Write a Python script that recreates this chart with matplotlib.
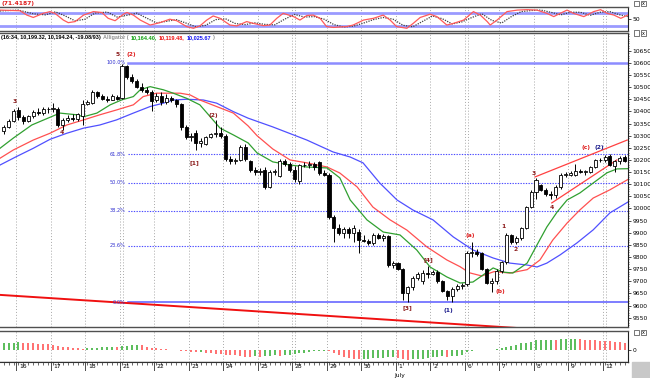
import numpy as np
import matplotlib
matplotlib.use("Agg")
import matplotlib.pyplot as plt
from matplotlib.patches import Rectangle

# ---- data (hourly bars, 15 Jun - 12 Jul) ----
opens = [10320, 10335, 10362, 10405, 10375, 10362, 10380, 10398, 10392, 10410,
         10408, 10410, 10345, 10365, 10372, 10368, 10380, 10430, 10435, 10478,
         10462, 10452, 10448, 10458, 10455, 10585, 10540, 10525, 10500, 10488,
         10478, 10445, 10465, 10440, 10455, 10445, 10430, 10335, 10293, 10310,
         10268, 10265, 10295, 10305, 10310, 10300, 10205, 10195, 10200, 10255,
         10195, 10158, 10152, 10160, 10090, 10150, 10135, 10195, 10185, 10160,
         10115, 10180, 10178, 10182, 10190, 10148, 10140, 9965, 9920, 9900,
         9915, 9898, 9905, 9872, 9868, 9858, 9892, 9880, 9885, 9768,
         9775, 9752, 9650, 9675, 9715, 9700, 9735, 9732, 9740, 9700,
         9660, 9638, 9668, 9680, 9688, 9815, 9820, 9815, 9750, 9695,
         9700, 9743, 9778, 9890, 9862, 9880, 9920, 10005, 10068, 10095,
         10075, 10058, 10055, 10088, 10138, 10140, 10140, 10155, 10150, 10150,
         10172, 10200, 10198, 10215, 10175, 10195, 10212]
highs = [10345, 10370, 10410, 10420, 10385, 10385, 10405, 10415, 10420, 10418,
         10435, 10418, 10372, 10385, 10390, 10395, 10445, 10448, 10490, 10485,
         10470, 10465, 10470, 10468, 10594, 10590, 10555, 10532, 10515, 10500,
         10490, 10475, 10480, 10470, 10462, 10452, 10435, 10345, 10310, 10325,
         10290, 10300, 10310, 10365, 10335, 10305, 10215, 10210, 10260, 10265,
         10200, 10170, 10165, 10170, 10160, 10162, 10205, 10205, 10190, 10175,
         10185, 10190, 10195, 10190, 10195, 10158, 10145, 9975, 9935, 9925,
         9925, 9930, 9915, 9890, 9875, 9900, 9900, 9895, 9890, 9785,
         9780, 9755, 9680, 9720, 9740, 9745, 9765, 9745, 9745, 9705,
         9665, 9675, 9690, 9695, 9825, 9860, 9835, 9822, 9755, 9715,
         9750, 9785, 9898, 9895, 9885, 9925, 10010, 10075, 10125, 10100,
         10085, 10070, 10095, 10145, 10150, 10155, 10185, 10162, 10158, 10175,
         10205, 10210, 10222, 10225, 10200, 10215, 10222]
lows = [10305, 10330, 10355, 10365, 10350, 10355, 10372, 10385, 10385, 10395,
        10398, 10335, 10325, 10355, 10360, 10362, 10345, 10425, 10430, 10455,
        10445, 10440, 10445, 10448, 10450, 10535, 10515, 10495, 10480, 10470,
        10400, 10440, 10425, 10430, 10440, 10420, 10325, 10285, 10280, 10242,
        10255, 10260, 10290, 10295, 10290, 10195, 10185, 10185, 10195, 10195,
        10150, 10140, 10140, 10080, 10085, 10140, 10130, 10175, 10150, 10110,
        10100, 10170, 10165, 10160, 10140, 10135, 9958, 9860, 9890, 9880,
        9880, 9860, 9815, 9860, 9850, 9850, 9875, 9865, 9760, 9755,
        9745, 9625, 9614, 9665, 9705, 9690, 9715, 9725, 9695, 9655,
        9625, 9616, 9660, 9670, 9680, 9800, 9805, 9745, 9690, 9655,
        9690, 9735, 9770, 9855, 9855, 9870, 9915, 10000, 10040, 10070,
        10050, 10040, 10045, 10080, 10128, 10135, 10135, 10145, 10140, 10145,
        10168, 10192, 10190, 10175, 10150, 10185, 10190]
closes = [10335, 10362, 10400, 10375, 10362, 10380, 10398, 10392, 10410, 10408,
          10415, 10345, 10365, 10372, 10368, 10388, 10430, 10438, 10478, 10462,
          10452, 10448, 10462, 10450, 10585, 10540, 10525, 10500, 10488, 10480,
          10442, 10465, 10440, 10455, 10445, 10430, 10335, 10293, 10300, 10268,
          10280, 10295, 10305, 10310, 10300, 10205, 10195, 10200, 10255, 10205,
          10158, 10152, 10155, 10090, 10150, 10155, 10195, 10185, 10160, 10120,
          10180, 10178, 10182, 10170, 10148, 10140, 9965, 9920, 9900, 9915,
          9898, 9920, 9872, 9868, 9858, 9892, 9880, 9885, 9768, 9775,
          9752, 9650, 9675, 9715, 9730, 9735, 9732, 9738, 9700, 9660,
          9638, 9668, 9680, 9686, 9815, 9820, 9812, 9750, 9695, 9700,
          9743, 9778, 9890, 9862, 9880, 9920, 10005, 10068, 10118, 10075,
          10058, 10055, 10088, 10138, 10140, 10145, 10155, 10150, 10152, 10172,
          10200, 10198, 10212, 10180, 10195, 10210, 10195]

# Alligator lines (bar position, price)
lips_x = [-0.75, 1.95, 5.7, 11.4, 14.8, 16.2, 18.9, 21.6, 23.9, 26.3, 27.7, 29.7,
          32.4, 34.4, 37.1, 39.8, 41.9, 43.9, 46.6, 49.6, 51.4, 54.6, 58.1, 61.5,
          65.6, 68.2, 70.3, 73.7, 77.0, 80.4, 83.8, 86.5, 89.9, 92.6, 95.2, 98.1,
          99.3, 101.3, 103.3, 106.2, 108.2, 110.2, 112.3, 114.3, 116.9, 119.6,
          122.4, 124.4, 126.6]
lips_y = [10248, 10290, 10344, 10393, 10386, 10378, 10393, 10427, 10447, 10461,
          10489, 10502, 10489, 10475, 10454, 10427, 10378, 10331, 10303, 10270,
          10229, 10192, 10179, 10171, 10167, 10126, 10035, 9953, 9903, 9891, 9829,
          9759, 9718, 9693, 9697, 9738, 9755, 9738, 9734, 9775, 9850, 9924, 9986,
          10035, 10064, 10105, 10147, 10163, 10164]
teeth_x = [-0.75, 1.95, 6.0, 9.4, 12.8, 16.2, 19.5, 22.9, 26.3, 28.3, 31.0, 35.8,
           37.8, 39.8, 43.2, 46.6, 49.6, 51.4, 54.6, 58.1, 61.5, 65.6, 68.2, 71.7,
           74.9, 78.4, 81.8, 85.9, 89.9, 92.6, 94.5, 97.0, 99.5, 102.7, 106.2,
           108.8, 111.4, 114.3, 116.9, 119.6, 123.0, 126.6]
teeth_y = [10207, 10241, 10282, 10310, 10344, 10365, 10386, 10406, 10427, 10461,
           10475, 10475, 10468, 10447, 10420, 10393, 10340, 10300, 10245, 10200,
           10188, 10171, 10146, 10089, 10006, 9953, 9911, 9841, 9788, 9760, 9735,
           9722, 9740, 9734, 9748, 9788, 9870, 9940, 9994, 10043, 10077, 10119]
jaw_x = [-0.75, 2.6, 6.0, 9.4, 12.8, 16.2, 19.5, 22.9, 26.3, 29.7, 32.4, 34.4,
         37.1, 40.5, 43.2, 46.6, 49.6, 54.6, 61.5, 66.8, 70.3, 72.9, 76.3, 79.8,
         83.0, 87.1, 91.2, 95.2, 99.3, 102.7, 106.2, 108.2, 110.2, 112.9, 116.3,
         119.6, 123.0, 126.6]
jaw_y = [10179, 10214, 10248, 10285, 10310, 10331, 10344, 10365, 10393, 10420,
         10434, 10447, 10450, 10447, 10434, 10399, 10372, 10336, 10282, 10233,
         10212, 10188, 10105, 10035, 9994, 9953, 9883, 9829, 9796, 9775, 9767,
         9759, 9775, 9809, 9858, 9912, 9982, 10026]

# Fibonacci retracement
fib_high = 10600
fib_low = 9613.5
fib_levels = [100.0, 61.8, 50.0, 38.2, 23.6, 0.0]

# trend lines (bar position, price)
long_line = ([-0.75, 110], [9644, 9500])
wedge_top = ([107.8, 126.5], [10130, 10282])
wedge_bot = ([111.2, 124.4], [10023, 10200])

# wave labels: bar position, price, text, colour
waves = [(2.3, 10439, "3", "#8b1a1a"), (11.8, 10311, "4", "#8b1a1a"),
         (23.2, 10633, "5", "#8b1a1a"), (25.8, 10633, "(2)", "#e02020"),
         (38.6, 10188, "[1]", "#8b1a1a"), (42.5, 10385, "(2)", "#8b1a1a"),
         (81.8, 9590, "[3]", "#8b1a1a"), (86.1, 9788, "[4]", "#8b1a1a"),
         (90.3, 9578, "(1)", "#1a1a8b"), (94.6, 9887, "(a)", "#e02020"),
         (100.7, 9656, "(b)", "#e02020"), (101.3, 9924, "1", "#8b1a1a"),
         (103.9, 9833, "2", "#8b1a1a"), (107.6, 10146, "3", "#8b1a1a"),
         (111.2, 10002, "4", "#8b1a1a"), (118.1, 10250, "(c)", "#e02020"),
         (120.8, 10250, "(2)", "#1a1a8b")]

# oscillator (top panel)
osc_x = [-0.75, 3.3, 4.7, 6.0, 8.0, 9.4, 10.4, 12.1, 13.1, 14.5, 16.2, 18.2, 19.9,
         21.2, 22.6, 24.3, 25.0, 26.3, 27.7, 29.7, 31.7, 33.7, 35.1, 37.1, 38.5,
         39.8, 41.2, 42.5, 43.9, 45.9, 47.3, 49.3, 50.6, 52.7, 54.0, 55.4, 56.7,
         58.8, 60.1, 61.5, 62.8, 64.2, 65.5, 66.9, 69.6, 70.9, 73.0, 75.0, 77.0,
         78.4, 79.7, 81.8, 83.1, 84.5, 86.5, 87.9, 89.9, 91.3, 93.3, 95.3, 96.7,
         98.1, 98.7, 100.1, 102.1, 104.2, 106.2, 108.2, 110.2, 111.6, 112.9, 114.3,
         115.6, 117.7, 119.7, 121.1, 122.4, 123.8, 125.2, 126.6]
osc_red = [92, 89, 69, 58, 77, 85, 77, 46, 34, 39, 69, 85, 81, 54, 43, 73, 81, 69,
           46, 23, 34, 50, 43, 16, 8, 19, 46, 65, 54, 23, 19, 39, 31, 20, 23, 54,
           77, 62, 46, 67, 69, 54, 16, 12, 16, 23, 46, 54, 69, 46, 16, 8, 31, 58,
           73, 62, 23, 31, 46, 85, 69, 39, 23, 46, 85, 92, 94, 92, 77, 62, 77, 92,
           77, 62, 85, 94, 77, 69, 54, 69]
sig_x = [-0.75, 3, 6, 8.5, 10.5, 12.5, 14.5, 16.5, 18.5, 21, 23, 25, 27, 29, 31, 33,
         35, 37, 39, 41, 43, 45, 47, 49, 51, 53, 55, 57, 59, 61, 63, 65, 67, 69, 71,
         73, 75, 77, 79, 81, 83, 85, 87, 89, 91, 93, 95, 97, 99, 101, 103, 105, 107,
         109, 111, 113, 115, 117, 119, 121, 123, 125, 126.6]
sig_y = [88, 92, 75, 70, 84, 65, 42, 50, 78, 83, 60, 68, 78, 55, 33, 40, 48, 32, 15,
         22, 48, 52, 30, 25, 33, 26, 24, 50, 72, 60, 62, 50, 25, 14, 18, 32, 48, 58,
         50, 22, 15, 40, 65, 52, 28, 38, 58, 75, 45, 32, 62, 85, 90, 92, 82, 70, 82,
         82, 68, 82, 85, 70, 62]

# histogram (bottom panel), one value per bar
hist = [6.7, 7.0, 7.3, 8.3, 7.3, 6.7, 6.6, 6.3, 6.0, 5.7,
        5.0, 4.3, 3.3, 2.7, 2.3, 1.7, 1.0, 2.0, 2.3, 2.5,
        2.7, 3.0, 3.2, 3.0, 3.7, 4.3, 4.7, 5.0, 4.7, 3.3,
        2.3, 1.7, 1.3, 0.7, 0.3, 0.0, -0.7, -1.3, -2.0, -2.3,
        -2.0, -2.7, -3.3, -4.0, -4.3, -4.7, -5.0, -5.3, -6.0, -6.7,
        -6.8, -6.0, -6.7, -6.2, -5.7, -5.3, -5.6, -5.0, -4.7, -4.3,
        -3.3, -2.7, -2.3, -1.3, -1.0, -0.7, -1.0, -3.3, -5.0, -6.7,
        -8.0, -8.5, -9.0, -8.8, -8.6, -8.3, -8.0, -7.7, -7.3, -6.7,
        -8.3, -9.3, -10.0, -9.3, -9.0, -8.7, -8.0, -7.3, -6.7, -6.0,
        -6.7, -6.0, -5.7, -5.0, -1.7, -0.7, 0.0, 0.3, 0.3, 0.3,
        1.0, 1.7, 2.7, 4.0, 5.0, 6.7, 7.3, 8.3, 9.7, 10.0,
        10.3, 10.5, 10.3, 10.6, 10.7, 10.8, 10.9, 10.7, 10.3, 10.0,
        9.7, 9.3, 9.0, 8.7, 8.3, 8.0, 7.3]

day_labels = ["16", "17", "18", "21", "22", "23", "24", "25", "28", "29", "30",
              "1", "2", "6", "7", "8", "9", "12"]
week_starts = ["21", "28", "6", "12"]

header = [("(16:34, 10,199.32, 10,194.24, -19.08/93)", "black"),
          ("Alligator (", "#909090"),
          ("10,164.40,", "#10a010"),
          ("10,119.48,", "#f01010"),
          ("10,025.67", "#1010f0"),
          (")", "#909090")]

# ---- layout helpers (pixels -> figure fraction) ----
W, H = 650, 378
RIGHT = 628


def fx(x):
    return x / W


def fy(y):
    return 1 - y / H


XMIN, XMAX = -0.75, 126.66
FS = 4.3
NARROW = ["Liberation Sans Narrow", "Liberation Sans", "DejaVu Sans"]

fig = plt.figure(figsize=(6.5, 3.78), dpi=100)
fig.patch.set_facecolor("white")

ax_osc = fig.add_axes([0, fy(31), fx(RIGHT), (31 - 7) / H])
ax = fig.add_axes([0, fy(327), fx(RIGHT), (327 - 33) / H])
ax_h = fig.add_axes([0, fy(362), fx(RIGHT), (362 - 331) / H])
ax_d = fig.add_axes([0, fy(371), fx(RIGHT), (371 - 362) / H])

grid_x = [2.5 + 7 * k for k in range(len(day_labels))]
extra_x = [grid_x[day_labels.index(d)] + 0.67 for d in week_starts]

for a in (ax_osc, ax, ax_h):
    a.set_xlim(XMIN, XMAX)
    a.set_xticks([])
    for gx in grid_x + extra_x:
        a.axvline(gx, color="#a8a8a8", lw=0.7, ls=(0, (1, 2)), zorder=0)
    a.spines["left"].set_visible(False)
    for s in ("top", "bottom"):
        a.spines[s].set_color("#505050")
        a.spines[s].set_linewidth(1.0)
    a.spines["right"].set_color("#202020")
    a.spines["right"].set_linewidth(0.8)
    a.yaxis.tick_right()
    a.tick_params(axis="y", labelsize=FS, length=2, width=0.5, pad=1)

# ---- top oscillator ----
ax_osc.set_ylim(-4.5, 106.3)
for lvl in (80, 20):
    ax_osc.axhline(lvl, color="#9a9aff", lw=2.0, zorder=1)
ax_osc.plot(sig_x, sig_y, color="#404040", lw=0.9, ls=(0, (1, 1)), zorder=2)
ax_osc.plot(osc_x, osc_red, color="#ff5a5a", lw=0.9, zorder=3)
ax_osc.set_yticks([50])
ax_osc.set_yticklabels(["50"])
fig.text(fx(2), fy(3.5), "(71.4187)", color="#e02020", fontsize=FS,
         fontweight="bold", va="center", ha="left")

# ---- main price panel ----
ax.set_ylim(9511.7, 10723)
ax.set_yticks(np.arange(9550, 10651, 50))
ax.set_yticks(np.arange(9520, 10721, 10), minor=True)
ax.tick_params(axis="y", which="minor", length=1, width=0.4)

# fibonacci lines
fib_start = 25.2
for lvl in fib_levels:
    price = fib_low + (fib_high - fib_low) * lvl / 100
    if lvl == 100.0:
        ax.plot([fib_start, XMAX], [price, price], color="#8c8cff", lw=1.8, zorder=1)
    elif lvl == 0.0:
        ax.plot([fib_start, XMAX], [price, price], color="#5a5aff", lw=1.1, zorder=1)
    else:
        ax.plot([fib_start, XMAX], [price, price], color="#4a4aff", lw=0.8,
                ls=(0, (1.2, 1.2)), zorder=1)
    ax.text(fib_start - 0.4, price, f"{lvl:.1f}%", color="#3030d0", fontsize=3.6,
            ha="right", va="center", zorder=5)

# alligator
ax.plot(jaw_x, jaw_y, color="#5050ff", lw=0.9, zorder=2)
ax.plot(teeth_x, teeth_y, color="#ff5050", lw=0.9, zorder=2)
ax.plot(lips_x, lips_y, color="#30a030", lw=0.9, zorder=2)

# trend lines
ax.plot(*long_line, color="#f01010", lw=1.4, zorder=2)
ax.plot(*wedge_top, color="#ff4040", lw=0.9, zorder=2)
ax.plot(*wedge_bot, color="#ff4040", lw=0.9, zorder=2)

# candles
o = np.array(opens)
h = np.array(highs)
l = np.array(lows)
c = np.array(closes)
idx = np.arange(len(c))
up = c >= o
ax.vlines(idx, l, h, color="black", lw=0.7, zorder=3)
body_lo = np.minimum(o, c)
body_h = np.maximum(np.abs(c - o), 2.5)
ax.bar(idx, body_h, bottom=body_lo, width=0.62,
       color=np.where(up, "white", "black"), edgecolor="black", lw=0.6, zorder=4)

for bx, by, t, col in waves:
    ax.text(bx, by, t, color=col, fontsize=FS, fontweight="bold",
            ha="center", va="center", zorder=6)

# header line, pieces laid side by side
renderer = fig.canvas.get_renderer()
hx = fx(1)
for txt, col in header:
    t = fig.text(hx, fy(37.5), txt, color=col, fontsize=4.0, fontweight="bold",
                 family=NARROW, va="center", ha="left")
    hx = t.get_window_extent(renderer).x1 / W + fx(2.0)

# ---- histogram ----
ax_h.set_ylim(-12, 19)
hv = np.array(hist)
rising = np.concatenate([[True], hv[1:] >= hv[:-1]])
ax_h.vlines(idx, 0, hv, colors=np.where(rising, "#4cb84c", "#ff6464"), lw=1.3,
            zorder=2)
ax_h.set_yticks([0])
ax_h.set_yticklabels(["0"])

# ---- date strip ----
ax_d.set_xlim(XMIN, XMAX)
ax_d.set_ylim(0, 1)
ax_d.set_xticks([])
ax_d.set_yticks([])
for s in ("left", "right", "bottom"):
    ax_d.spines[s].set_visible(False)
ax_d.spines["top"].set_color("#303030")
ax_d.spines["top"].set_linewidth(0.8)
ax_d.vlines(idx, 0.7, 1.0, color="#303030", lw=0.5)
for gx, lab in zip(grid_x, day_labels):
    ax_d.vlines(gx, 0.0, 1.0, color="#303030", lw=0.6)
    ax_d.text(gx + 0.6, 0.45, lab, fontsize=FS, ha="left", va="center")
fig.text(fx(394), fy(375.5), "July", fontsize=FS, ha="left", va="center")

# grey corner box and panel buttons
fig.patches.append(Rectangle((fx(632), fy(378)), fx(18), 16 / H,
                             transform=fig.transFigure, color="#c8c8c8"))
for yb in (1, 30.5, 329.5):
    for xb in (634, 641):
        fig.patches.append(Rectangle((fx(xb), fy(yb + 5)), fx(5), 5 / H,
                                     transform=fig.transFigure, fill=False,
                                     ec="#404040", lw=0.5))
    fig.text(fx(643.5), fy(yb + 2.6), "x", fontsize=3.5, ha="center", va="center")

fig.savefig("out.png", dpi=100)
